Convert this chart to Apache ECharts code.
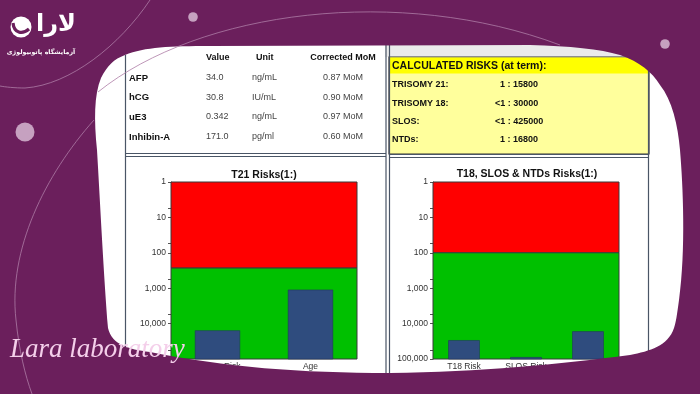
<!DOCTYPE html>
<html><head><meta charset="utf-8">
<script src="https://cdn.jsdelivr.net/npm/echarts@6/dist/echarts.min.js"></script>
<style>html,body{margin:0;padding:0;background:#6b1f5c}#c{width:700px;height:394px}</style>
</head><body><div id="c"></div>
<script>
// ---------- data ----------
const yTickValues = [1, 10, 100, 1000, 10000, 100000];
const t21Categories = ['Screen Risk', 'Age'];
const t21Values = [15800, 1120];
const t21Cutoff = 270;
const t18Categories = ['T18 Risk', 'SLOS Risk', 'NTDs Risk'];
const t18Values = [30000, 90000, 16800];
const t18Cutoff = 100;
const t21Title = 'T21 Risks(1:)';
const t18Title = 'T18, SLOS & NTDs Risks(1:)';
const tableHeaders = ['Value', 'Unit', 'Corrected MoM'];
const markerNames = ['AFP', 'hCG', 'uE3', 'Inhibin-A'];
const markerValues = ['34.0', '30.8', '0.342', '171.0'];
const markerUnits = ['ng/mL', 'IU/mL', 'ng/mL', 'pg/ml'];
const markerMoMs = ['0.87 MoM', '0.90 MoM', '0.97 MoM', '0.60 MoM'];
const riskTitle = 'CALCULATED RISKS (at term):';
const riskNames = ['TRISOMY 21:', 'TRISOMY 18:', 'SLOS:', 'NTDs:'];
const riskValues = ['1 : 15800', '<1 : 30000', '<1 : 425000', '1 : 16800'];
const brandName = 'لارا';
const brandSub = 'آزمایشگاه پاتوبیولوژی';
const scriptText = 'Lara laboratory';

// ---------- styling ----------
const FONT = 'Liberation Sans';
const PURPLE = '#6b1f5c';
const DOT = '#c6a1c0';
const ARC = '#ad7ca6';
const LINE = '#4a5566';
const Y_MIN = yTickValues[0], Y_MAX = yTickValues[yTickValues.length - 1];

const chart = echarts.init(document.getElementById('c'), null, {renderer: 'canvas'});

function zoneItem(colors) {
  return function (params, api) {
    const cs = params.coordSys;
    const y1 = api.coord([0, api.value(1)])[1];
    const y2 = api.coord([0, api.value(2)])[1];
    return {type: 'rect', shape: {x: cs.x, y: Math.min(y1, y2), width: cs.width, height: Math.abs(y2 - y1)},
      style: {fill: colors[params.dataIndex], stroke: '#3a3a3a', lineWidth: 1}};
  };
}
function barItem(ratio) {
  return function (params, api) {
    const c = api.value(0), v = api.value(1);
    const top = api.coord([c, v]);
    const base = api.coord([c, Y_MAX]);
    const w = api.size([1, 1])[0] * ratio;
    return {type: 'rect', shape: {x: top[0] - w / 2, y: top[1], width: w, height: base[1] - top[1]},
      style: {fill: '#2f4c7e', stroke: '#22385e', lineWidth: 0.6}};
  };
}
function yAxisCfg(gi) {
  return {type: 'log', gridIndex: gi, inverse: true, logBase: 10, min: Y_MIN, max: Y_MAX,
    splitNumber: yTickValues.length - 1,
    axisLine: {show: true, lineStyle: {color: '#555', width: 1}},
    axisTick: {show: true, length: 3, lineStyle: {color: '#555'}},
    minorTick: {show: true, splitNumber: 2, length: 3, lineStyle: {color: '#555'}},
    splitLine: {show: false},
    axisLabel: {fontSize: 8.5, color: '#333', margin: 5, fontFamily: FONT,
      formatter: v => Math.round(v).toLocaleString('en-US')}};
}
function xAxisCfg(gi, cats) {
  return {type: 'category', gridIndex: gi, data: cats, axisLine: {show: false}, axisTick: {show: false},
    axisLabel: {fontSize: 8.5, color: '#333', margin: 3, fontFamily: FONT, interval: 0}};
}

const paperPath = 'M125,55 C145,47 170,46 210,46 L530,45 C570,46 600,49 620,55 C640,62 652,72 660,85 ' +
  'C672,100 678,125 680,150 C683,185 686,250 679,300 C677,315 676,322 674,328 ' +
  'C668,346 650,351 630,355 C560,364 480,372 390,373 ' +
  'C300,373 225,367 150,352 C128,349 112,345 108,328 C104,280 100,200 97,150 C94,120 94,95 101,78 ' +
  'C107,66 114,59 125,55 Z';
const maskPath = 'M0,0 L0,394 L700,394 L700,0 Z ' + paperPath;
const arcPaths = ['M150,0 C120,45 70,85 25,88 C15,88 5,87 0,86',
  'M94,120 C45,175 8,250 16,320 C19,350 25,375 32,394',
  'M98,92 C200,10 400,-15 560,45'];
const dots = [[25, 132, 9.5], [193, 17, 4.8], [665, 44, 4.8]];

const g = [];
function txt(x, y, s, opt, z) {
  g.push({type: 'text', x: x, y: y, z: z || 5, style: Object.assign({text: s, fill: '#111',
    font: 'bold 9px "' + FONT + '"', textAlign: 'left', textVerticalAlign: 'middle'}, opt || {})});
}
function ln(x1, y1, x2, y2, w, c) {
  g.push({type: 'line', z: 4, shape: {x1: x1, y1: y1, x2: x2, y2: y2}, style: {stroke: c || LINE, lineWidth: w || 1.2}});
}
// panels
g.push({type: 'rect', z: 1, shape: {x: 385, y: 44, width: 262, height: 13}, style: {fill: '#ebebeb'}});
g.push({type: 'rect', z: 2, shape: {x: 389, y: 57, width: 260, height: 97}, style: {fill: '#ffff9c', stroke: '#333', lineWidth: 1.2}});
g.push({type: 'rect', z: 3, shape: {x: 389.6, y: 57.6, width: 258.8, height: 16}, style: {fill: '#ffff00'}});
ln(125.5, 55, 125.5, 380);
ln(386, 44, 386, 380); ln(389.5, 44, 389.5, 380);
ln(125, 153.5, 386, 153.5); ln(125, 156.5, 386, 156.5);
ln(389, 154.5, 649, 154.5); ln(389, 157.5, 649, 157.5);
ln(648.5, 57, 648.5, 360);
// table
const colX = [206, 256, 343];
txt(colX[0], 58, tableHeaders[0]);
txt(colX[1], 58, tableHeaders[1]);
txt(colX[2], 58, tableHeaders[2], {textAlign: 'center'});
const rowY = [78, 97.5, 117, 137];
markerNames.forEach((n, i) => {
  txt(129, rowY[i], n, {font: 'bold 9.5px "' + FONT + '"'});
  txt(colX[0], rowY[i], markerValues[i], {font: '9px "' + FONT + '"', fill: '#444'});
  txt(252, rowY[i], markerUnits[i], {font: '9px "' + FONT + '"', fill: '#444'});
  txt(colX[2], rowY[i], markerMoMs[i], {font: '9px "' + FONT + '"', fill: '#444', textAlign: 'center'});
});
// risks
txt(392, 66.5, riskTitle, {font: 'bold 10.5px "' + FONT + '"'});
const riskY = [85, 103.5, 122, 140];
riskNames.forEach((n, i) => {
  txt(392, riskY[i], n);
  txt(riskValues[i].charAt(0) === '<' ? 495 : 500, riskY[i], riskValues[i]);
});
// chart titles
txt(264, 175, t21Title, {font: 'bold 10.5px "' + FONT + '"', textAlign: 'center'});
txt(527, 174, t18Title, {font: 'bold 10.5px "' + FONT + '"', textAlign: 'center'});
// brand texts (above mask)
txt(56, 25, brandName, {fill: '#fff', font: 'bold 24px "DejaVu Sans"', textAlign: 'center'}, 62);
txt(41, 52, brandSub, {fill: '#fff', font: 'bold 6.3px "DejaVu Sans"', textAlign: 'center'}, 62);
txt(10, 350, scriptText, {fill: '#f4cfea', font: 'italic 27px "Liberation Serif"'}, 62);

function decoItem() {
  const ch = [{type: 'path', z2: 1, shape: {pathData: maskPath}, style: {fill: PURPLE}}];
  arcPaths.forEach(p => ch.push({type: 'path', z2: 2, shape: {pathData: p}, style: {fill: 'none', stroke: ARC, lineWidth: 0.8}}));
  dots.forEach(d => ch.push({type: 'circle', z2: 3, shape: {cx: d[0], cy: d[1], r: d[2]}, style: {fill: DOT}}));
  ch.push({type: 'circle', z2: 4, shape: {cx: 21, cy: 27, r: 10.5}, style: {fill: '#fff'}});
  ch.push({type: 'path', z2: 5, shape: {pathData: 'M13,23 C14,33 22,35 29,29'}, style: {fill: 'none', stroke: PURPLE, lineWidth: 3.2}});
  return {type: 'group', children: ch};
}

const option = {
  backgroundColor: '#ffffff',
  animation: false,
  grid: [
    {left: 171, top: 182, width: 186, height: 177},
    {left: 433, top: 182, width: 186, height: 177}
  ],
  xAxis: [xAxisCfg(0, t21Categories), xAxisCfg(1, t18Categories)],
  yAxis: [yAxisCfg(0), yAxisCfg(1)],
  series: [
    {type: 'custom', xAxisIndex: 0, yAxisIndex: 0, z: 2, encode: {x: 0, y: [1, 2]},
      data: [[0, Y_MIN, t21Cutoff], [0, t21Cutoff, Y_MAX]], renderItem: zoneItem(['#ff0000', '#00c000'])},
    {type: 'custom', xAxisIndex: 0, yAxisIndex: 0, z: 3, encode: {x: 0, y: 1},
      data: t21Values.map((v, i) => [i, v]), renderItem: barItem(0.48)},
    {type: 'custom', xAxisIndex: 1, yAxisIndex: 1, z: 2, encode: {x: 0, y: [1, 2]},
      data: [[0, Y_MIN, t18Cutoff], [0, t18Cutoff, Y_MAX]], renderItem: zoneItem(['#ff0000', '#00c000'])},
    {type: 'custom', xAxisIndex: 1, yAxisIndex: 1, z: 3, encode: {x: 0, y: 1},
      data: t18Values.map((v, i) => [i, v]), renderItem: barItem(0.5)},
    {type: 'custom', coordinateSystem: 'none', z: 50, silent: true, data: [[0]], renderItem: decoItem}
  ],
  graphic: {elements: g}
};
chart.setOption(option);
</script>
</body></html>
